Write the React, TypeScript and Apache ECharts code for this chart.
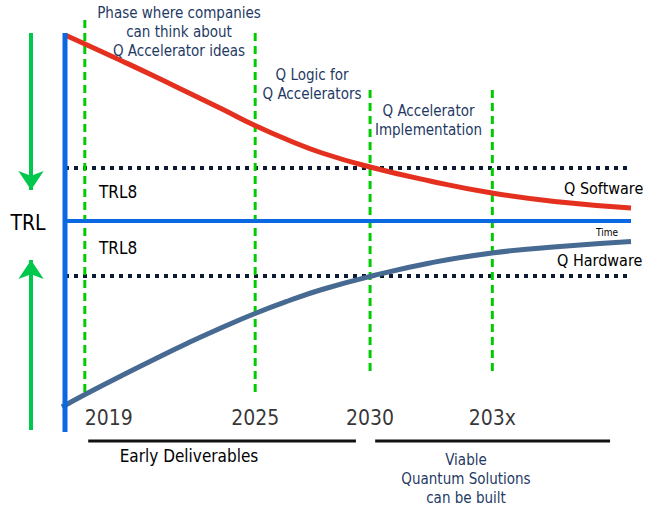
import React, { useEffect, useRef } from "react";
import * as echarts from "echarts";

// Conceptual time axis: 0 = start of axis, 100 = end of axis
// Conceptual TRL axis: 0 = Time axis, + software side, - hardware side
const softwareTRL: [number, number][] = [
  [0, 46.5], [3.53, 44.25], [10.07, 40], [15.9, 36.125], [21.73, 32.125],
  [27.74, 28], [33.57, 23.875], [39.4, 20.25], [45.41, 17], [53.89, 13.5],
  [64.49, 10], [75.44, 7], [87.46, 4.75], [100, 3.25],
];
const hardwareTRL: [number, number][] = [
  [-0.53, -46.5], [3.53, -43.375], [10.07, -38.625], [15.9, -34.5], [21.73, -30.5],
  [27.74, -26.625], [33.57, -23.125], [39.4, -20], [45.41, -17.125], [53.89, -13.875],
  [64.49, -10.5], [75.44, -8], [87.46, -6.375], [100, -5.125],
];
const milestoneX = [3.5, 33.6, 53.9, 75.5];
const milestoneLabels = ["2019", "2025", "2030", "203x"];
const milestoneAlign = ["left", "center", "center", "center"];
const phaseTop = [50.25, 47, 32.75, 32.75];
const phaseBottom = [-44, -43, -38.5, -38.5];
const trl8Levels = [13.25, -13.75];
const periodSpans: [number, number][] = [[4.1, 51.4], [54.8, 96.3]];
const periodY = -55;
const yearLabelY = -49.25;
const axisTop = 47;
const axisBottom = -52.75;

const FONT = "'DejaVu Sans Condensed', 'DejaVu Sans', sans-serif";
const NAVY = "#1f3a64";
const GREEN = "#00c84c";

export default function App() {
  const ref = useRef<HTMLDivElement>(null);
  useEffect(() => {
    if (!ref.current) return;
    const chart = echarts.init(ref.current, null, { renderer: "svg" });

    const series: any[] = [];

    trl8Levels.forEach((lv) => {
      series.push({
        type: "line", symbol: "none", silent: true, z: 2,
        data: [[0, lv], [100, lv]],
        lineStyle: { color: "#0d1a33", width: 4, type: [4, 5] },
      });
    });

    milestoneX.forEach((x, i) => {
      series.push({
        type: "line", symbol: "none", silent: true, z: 3,
        data: [[x, phaseTop[i]], [x, phaseBottom[i]]],
        lineStyle: { color: "#00cc00", width: 3, type: [8, 5] },
      });
    });

    series.push({
      type: "line", symbol: "none", smooth: 0.5, z: 4, silent: true,
      data: softwareTRL,
      lineStyle: { color: "#e4301e", width: 5 },
    });
    series.push({
      type: "line", symbol: "none", smooth: 0.5, z: 4, silent: true,
      data: hardwareTRL,
      lineStyle: { color: "#476a92", width: 5 },
    });

    // Axes (blue)
    series.push({
      type: "line", symbol: "none", z: 5, silent: true,
      data: [[0, 0], [100, 0]],
      lineStyle: { color: "#0a68e0", width: 4 },
    });
    series.push({
      type: "line", symbol: "none", z: 5, silent: true,
      data: [[0, axisTop], [0, axisBottom]],
      lineStyle: { color: "#0a68e0", width: 5 },
    });

    // Period underlines
    periodSpans.forEach(([a, b]) => {
      series.push({
        type: "line", symbol: "none", z: 5, silent: true,
        data: [[a, periodY], [b, periodY]],
        lineStyle: { color: "#111", width: 3 },
      });
    });

    // Arrows
    series.push({
      type: "line", data: [], silent: true,
      markLine: {
        silent: true, animation: false,
        symbol: ["none", "arrow"], symbolSize: [19, 19],
        label: { show: false },
        lineStyle: { color: GREEN, width: 4, type: "solid" },
        data: [
          [{ coord: [-6, 47] }, { coord: [-6, 7.75] }],
          [{ coord: [-6, -52.25] }, { coord: [-6, -9.75] }],
        ],
      },
    });

    // Year labels
    series.push({
      type: "scatter", symbolSize: 0, silent: true,
      data: milestoneX.map((x, i) => ({
        value: [x, yearLabelY],
        label: {
          show: true, position: "inside", formatter: milestoneLabels[i],
          align: milestoneAlign[i], color: "#000", fontSize: 21, fontFamily: FONT,
        },
      })),
    });

    const txt = (text: string, x: number, y: number, size: number, fill: string, align = "center", lh = 19) => ({
      type: "text",
      style: {
        text, x, y, fill, fontSize: size, fontFamily: FONT,
        textAlign: align, textVerticalAlign: "middle", lineHeight: lh,
      },
      z: 10,
    });

    chart.setOption({
      animation: false,
      grid: { left: 8.4, right: 1.85, top: 1, bottom: 10 },
      xAxis: { type: "value", min: -10, max: 102.5, show: false },
      yAxis: { type: "value", min: -70, max: 55, show: false },
      series,
      graphic: [
        txt("Phase where companies\ncan think about\nQ Accelerator ideas", 179, 32, 15, NAVY),
        txt("Q Logic for\nQ Accelerators", 312, 84.5, 15, NAVY),
        txt("Q Accelerator\nImplementation", 428.5, 120.5, 15, NAVY),
        txt("Viable\nQuantum Solutions\ncan be built", 466, 479, 15, NAVY),
        txt("TRL", 28, 223, 21, "#000"),
        txt("TRL8", 99, 191.5, 17, "#000", "left"),
        txt("TRL8", 99, 248, 17, "#000", "left"),
        txt("Q Software", 564, 188, 16, "#000", "left"),
        txt("Q Hardware", 557, 260, 16, "#000", "left"),
        txt("Time", 596, 232, 10, "#000", "left"),
        txt("Early Deliverables", 189, 456, 17, "#000"),
      ],
    });
    return () => chart.dispose();
  }, []);
  return (
    <div
      ref={ref}
      style={{ position: "absolute", left: 0, top: 0, width: 647, height: 511, background: "#fff" }}
    />
  );
}
